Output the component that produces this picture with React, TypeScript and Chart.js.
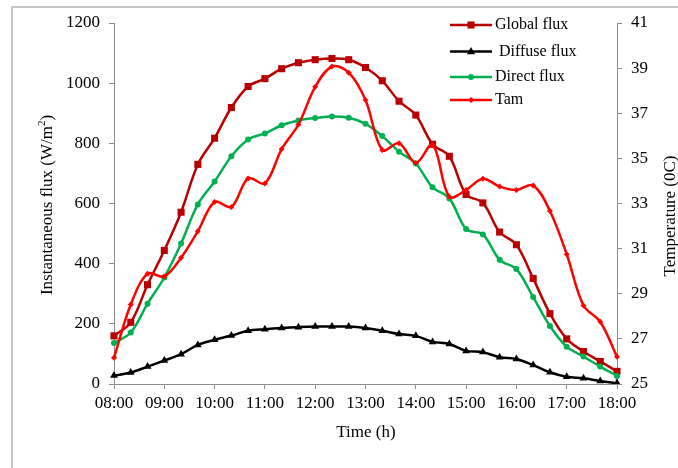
import React, { useEffect, useRef } from "react";
import { Chart, registerables } from "chart.js";

Chart.register(...registerables);

const timeLabels = [
  "08:00", "08:20", "08:40", "09:00", "09:20", "09:40", "10:00", "10:20", "10:40",
  "11:00", "11:20", "11:40", "12:00", "12:20", "12:40", "13:00", "13:20", "13:40",
  "14:00", "14:20", "14:40", "15:00", "15:20", "15:40", "16:00", "16:20", "16:40",
  "17:00", "17:20", "17:40", "18:00",
];

const globalFlux = [
  160, 205, 330, 444, 571, 730, 817, 919, 989, 1015, 1048, 1068, 1078, 1082, 1078, 1052,
  1008, 940, 894, 797, 757, 630, 602, 505, 463, 351, 234, 150, 108, 75, 42,
];

const diffuseFlux = [
  28, 38, 58, 78, 99, 130, 147, 161, 177, 182, 186, 189, 191, 191, 191, 186, 177, 166,
  160, 140, 133, 110, 106, 89, 83, 63, 39, 24, 19, 10, 3,
];

const directFlux = [
  136, 171, 267, 354, 467, 597, 673, 757, 813, 833, 860, 876, 884, 889, 885, 865, 824,
  772, 733, 654, 617, 515, 497, 413, 382, 289, 193, 124, 91, 58, 27,
];

const tamTemp = [
  26.16, 28.52, 29.89, 29.77, 30.6, 31.77, 33.07, 32.85, 34.11, 33.89, 35.41, 36.5, 38.17,
  39.07, 38.8, 37.59, 35.37, 35.67, 34.8, 35.6, 33.3, 33.6, 34.1, 33.75, 33.6, 33.8, 32.67,
  30.75, 28.48, 27.76, 26.21,
];

const seriesNames = ["Global flux", " Diffuse flux", "Direct flux", "Tam"];
const seriesColors = ["#B80000", "#000000", "#00B050", "#FF0000"];
const seriesStyles = ["rect", "triangle", "circle", "rectRot"];

const leftTitle = "Instantaneous flux (W/m";
const rightTitle = "Temperature (0C)";
const xTitle = "Time (h)";

const FONT = "'Liberation Serif', 'Times New Roman', serif";
const AXIS = "#8C8C8C";

function drawMarker(ctx: CanvasRenderingContext2D, style: string, x: number, y: number, r: number) {
  ctx.beginPath();
  if (style === "rect") {
    const s = r * Math.SQRT1_2;
    ctx.rect(x - s, y - s, 2 * s, 2 * s);
  } else if (style === "triangle") {
    ctx.moveTo(x, y - r);
    ctx.lineTo(x + r * 0.9, y + r * 0.6);
    ctx.lineTo(x - r * 0.9, y + r * 0.6);
    ctx.closePath();
  } else if (style === "circle") {
    ctx.arc(x, y, r, 0, Math.PI * 2);
  } else {
    ctx.moveTo(x, y - r);
    ctx.lineTo(x + r, y);
    ctx.lineTo(x, y + r);
    ctx.lineTo(x - r, y);
    ctx.closePath();
  }
  ctx.fill();
}

const decorPlugin = {
  id: "decor",
  afterDraw(chart: any) {
    const ctx: CanvasRenderingContext2D = chart.ctx;
    ctx.save();
    // outer frame
    ctx.strokeStyle = "#B4B4B4";
    ctx.lineWidth = 1.5;
    ctx.beginPath();
    ctx.moveTo(12, 470);
    ctx.lineTo(12, 7);
    ctx.lineTo(680, 7);
    ctx.stroke();

    ctx.fillStyle = "#000";
    // left title
    ctx.save();
    ctx.translate(48, 205);
    ctx.rotate(-Math.PI / 2);
    ctx.font = `17px ${FONT}`;
    ctx.textBaseline = "middle";
    const w1 = ctx.measureText(leftTitle).width;
    ctx.font = `11px ${FONT}`;
    const w2 = ctx.measureText("2").width;
    ctx.font = `17px ${FONT}`;
    const w3 = ctx.measureText(")").width;
    const total = w1 + w2 + w3;
    let sx = -total / 2;
    ctx.textAlign = "left";
    ctx.fillText(leftTitle, sx, 0);
    sx += w1;
    ctx.font = `11px ${FONT}`;
    ctx.fillText("2", sx, -6);
    sx += w2;
    ctx.font = `17px ${FONT}`;
    ctx.fillText(")", sx, 0);
    ctx.restore();

    // right title
    ctx.save();
    ctx.translate(671, 216);
    ctx.rotate(-Math.PI / 2);
    ctx.font = `17px ${FONT}`;
    ctx.textAlign = "center";
    ctx.textBaseline = "middle";
    ctx.fillText(rightTitle, 0, 0);
    ctx.restore();

    // x title
    ctx.font = `17px ${FONT}`;
    ctx.textAlign = "center";
    ctx.textBaseline = "middle";
    ctx.fillText(xTitle, 366, 433);

    // legend
    const rows = [25, 51.5, 77, 100];
    ctx.font = `16px ${FONT}`;
    ctx.textAlign = "left";
    ctx.textBaseline = "middle";
    const radii = [5, 4.5, 3, 3];
    seriesNames.forEach((name, i) => {
      const y = rows[i];
      ctx.strokeStyle = seriesColors[i];
      ctx.fillStyle = seriesColors[i];
      ctx.lineWidth = 2.5;
      ctx.beginPath();
      ctx.moveTo(450, y);
      ctx.lineTo(492, y);
      ctx.stroke();
      drawMarker(ctx, seriesStyles[i], 471, y, radii[i]);
      ctx.fillStyle = "#000";
      ctx.fillText(name, 495, y);
    });
    ctx.restore();
  },
};

export default function App() {
  const ref = useRef<HTMLCanvasElement | null>(null);

  useEffect(() => {
    if (!ref.current) return;
    const mk = (i: number, data: number[], axis: string, r: number) => ({
      label: seriesNames[i],
      data,
      yAxisID: axis,
      borderColor: seriesColors[i],
      backgroundColor: seriesColors[i],
      pointBackgroundColor: seriesColors[i],
      pointBorderColor: seriesColors[i],
      pointBorderWidth: 0,
      pointStyle: seriesStyles[i],
      pointRadius: r,
      borderWidth: 2.5,
      tension: 0.35,
      fill: false,
    });
    const chart = new Chart(ref.current, {
      type: "line",
      data: {
        labels: timeLabels,
        datasets: [
          mk(3, tamTemp, "y1", 3),
          mk(2, directFlux, "y", 3),
          mk(1, diffuseFlux, "y", 4.5),
          mk(0, globalFlux, "y", 5),
        ],
      },
      options: {
        responsive: false,
        animation: false,
        layout: { padding: { top: 23, left: 0, right: 0, bottom: 0 } },
        plugins: { legend: { display: false }, tooltip: { enabled: false } },
        scales: {
          x: {
            type: "category",
            offset: false,
            grid: {
              drawOnChartArea: false,
              tickLength: 5,
              tickColor: (c: any) => (c.index % 3 === 0 ? AXIS : "rgba(0,0,0,0)"),
            },
            border: { color: AXIS, width: 1 },
            ticks: {
              autoSkip: false,
              maxRotation: 0,
              minRotation: 0,
              padding: 4,
              color: "#000",
              font: { family: FONT, size: 17 },
              callback: (_v: any, i: number) => (i % 3 === 0 ? timeLabels[i] : ""),
            },
            afterFit: (s: any) => {
              s.height = 84;
            },
          },
          y: {
            position: "left",
            min: 0,
            max: 1200,
            grid: { drawOnChartArea: false, tickLength: 5, tickColor: AXIS },
            border: { color: AXIS, width: 1 },
            ticks: {
              stepSize: 200,
              padding: 9,
              color: "#000",
              font: { family: FONT, size: 17 },
              callback: (v: any) => String(v),
            },
            afterFit: (s: any) => {
              s.width = 114;
            },
          },
          y1: {
            position: "right",
            min: 25,
            max: 41,
            grid: { drawOnChartArea: false, tickLength: 5, tickColor: AXIS },
            border: { color: AXIS, width: 1 },
            ticks: {
              stepSize: 2,
              padding: 9,
              color: "#000",
              font: { family: FONT, size: 17 },
              callback: (v: any) => String(v),
            },
            afterFit: (s: any) => {
              s.width = 61;
            },
          },
        },
      },
      plugins: [decorPlugin],
    } as any);
    return () => chart.destroy();
  }, []);

  return (
    <div style={{ position: "absolute", left: 0, top: 0, width: 678, height: 468, background: "#fff" }}>
      <canvas ref={ref} width={678} height={468} style={{ display: "block" }} />
    </div>
  );
}
